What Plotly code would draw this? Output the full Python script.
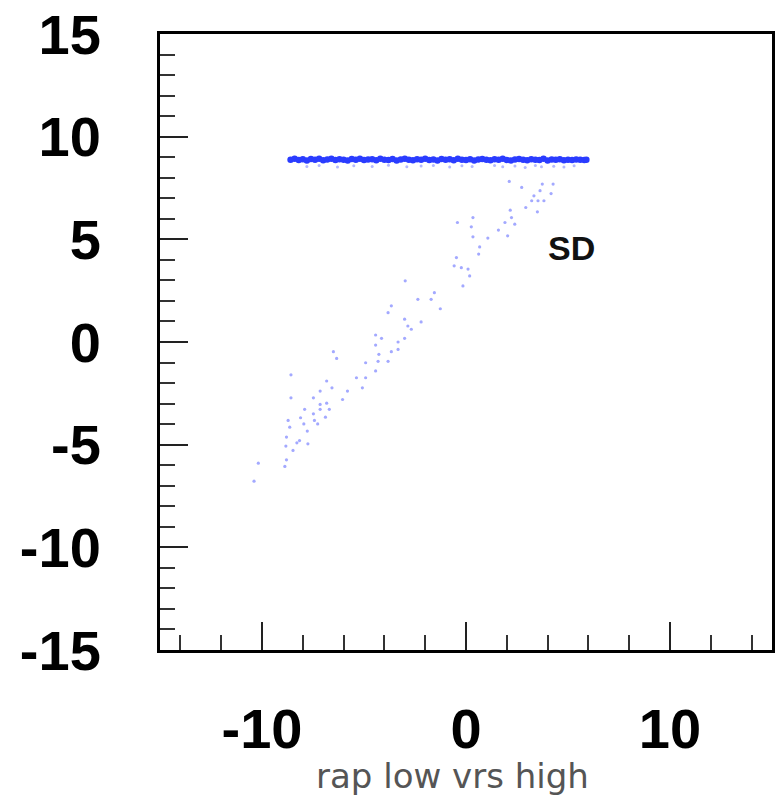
import plotly.graph_objects as go

# Dense single-diffractive band (rapidity of low vs high side)
band_x = [-8.6, -8.4, -8.2, -8.0, -7.8, -7.6, -7.4, -7.2, -7.0, -6.8,
          -6.6, -6.4, -6.2, -6.0, -5.8, -5.6, -5.4, -5.2, -5.0, -4.8,
          -4.6, -4.4, -4.2, -4.0, -3.8, -3.6, -3.4, -3.2, -3.0, -2.8,
          -2.6, -2.4, -2.2, -2.0, -1.8, -1.6, -1.4, -1.2, -1.0, -0.8,
          -0.6, -0.4, -0.2, 0.0, 0.2, 0.4, 0.6, 0.8, 1.0, 1.2,
          1.4, 1.6, 1.8, 2.0, 2.2, 2.4, 2.6, 2.8, 3.0, 3.2,
          3.4, 3.6, 3.8, 4.0, 4.2, 4.4, 4.6, 4.8, 5.0, 5.2,
          5.4, 5.6, 5.8, 5.9]
band_y = [8.88, 8.92, 8.86, 8.90, 8.84, 8.91, 8.87, 8.93, 8.85, 8.89,
          8.92, 8.86, 8.90, 8.88, 8.84, 8.91, 8.87, 8.93, 8.86, 8.89,
          8.90, 8.85, 8.92, 8.88, 8.86, 8.91, 8.84, 8.89, 8.92, 8.87,
          8.85, 8.90, 8.88, 8.93, 8.86, 8.89, 8.84, 8.91, 8.87, 8.90,
          8.85, 8.92, 8.88, 8.86, 8.90, 8.84, 8.89, 8.91, 8.87, 8.85,
          8.90, 8.88, 8.92, 8.86, 8.84, 8.89, 8.91, 8.87, 8.85, 8.90,
          8.88, 8.86, 8.92, 8.84, 8.89, 8.87, 8.90, 8.85, 8.88, 8.86,
          8.89, 8.87, 8.86, 8.88]

# Sparse events just below the band
shadow_x = [-7.8, -7.2, -6.3, -5.5, -4.6, -3.8, -2.9, -2.2, -1.6, -0.8,
            -0.2, 0.3, 1.4, 1.8, 2.4, 2.9, 3.4, 3.7, 4.3, 4.8, 5.3]
shadow_y = [8.55, 8.60, 8.52, 8.58, 8.55, 8.61, 8.53, 8.57, 8.60, 8.52,
            8.58, 8.55, 8.60, 8.53, 8.57, 8.50, 8.59, 8.54, 8.56, 8.52, 8.58]

# Sparse diagonal population
diag_x = [2.12, 2.73, 3.74, 4.27, 3.63, 4.17, 3.33, 3.22, 3.53, 3.82,
          2.93, 3.50, 2.17, 0.34, 2.23, -0.42, 1.91, 2.39, 0.26, 1.59,
          2.04, 0.34, 1.07, 0.67, 0.62, -0.47, -0.58, -0.23, 0.10, 0.18,
          -0.15, -2.98, -1.55, -2.36, -1.71, -1.26, -3.66, -3.82, -3.01, -2.20,
          -2.85, -2.68, -4.43, -4.14, -3.01, -3.33, -4.43, -6.50, -3.66, -3.33,
          -4.27, -6.34, -4.92, -4.31, -3.82, -4.43, -8.58, -6.83, -5.37, -4.92,
          -6.57, -5.08, -7.15, -5.81, -8.58, -7.48, -6.05, -6.83, -7.15, -6.70,
          -7.15, -7.91, -7.48, -6.89, -8.11, -8.72, -7.95, -7.43, -7.27, -8.64,
          -7.78, -8.80, -8.16, -7.75, -8.29, -8.83, -8.48, -8.80, -10.18, -8.88,
          -10.39]
diag_y = [7.82, 7.53, 7.69, 7.69, 7.37, 7.23, 7.12, 6.88, 6.88, 6.88,
          6.55, 6.34, 6.42, 6.06, 6.06, 5.82, 5.82, 5.74, 5.61, 5.45,
          5.17, 5.12, 5.06, 4.63, 4.28, 4.11, 3.71, 3.62, 3.55, 3.22,
          2.73, 2.98, 2.40, 2.08, 2.08, 1.62, 1.76, 1.43, 1.11, 0.98,
          0.78, 0.62, 0.34, 0.18, 0.18, 0.00, -0.15, -0.47, -0.47, -0.36,
          -0.60, -0.80, -1.01, -0.94, -0.94, -1.41, -1.60, -1.90, -1.74, -1.74,
          -2.23, -2.23, -2.39, -2.39, -2.72, -2.72, -2.80, -2.98, -3.04, -3.28,
          -3.28, -3.28, -3.50, -3.66, -3.69, -3.82, -3.99, -3.82, -3.99, -4.15,
          -4.34, -4.63, -4.80, -4.96, -4.91, -5.07, -5.28, -5.74, -5.90, -6.06,
          -6.78]

x_ticks = [-10, 0, 10]
y_ticks = [-15, -10, -5, 0, 5, 10, 15]
x_title = "rap low vrs high"
label_text = "SD"

fig = go.Figure()
fig.add_trace(go.Scatter(x=diag_x, y=diag_y, mode="markers",
                         marker=dict(size=3.2, color="#a3a9ff", line=dict(width=0)),
                         hoverinfo="skip"))
fig.add_trace(go.Scatter(x=shadow_x, y=shadow_y, mode="markers",
                         marker=dict(size=3, color="#b4b9ff", line=dict(width=0)),
                         hoverinfo="skip"))
fig.add_trace(go.Scatter(x=band_x, y=band_y, mode="markers",
                         marker=dict(size=6.5, color="#2a3cff", line=dict(width=0)),
                         hoverinfo="skip"))

fig.add_annotation(x=5.15, y=4.6, text=f"<b>{label_text}</b>", showarrow=False,
                   font=dict(family="Liberation Sans", size=34, color="#111111"),
                   xanchor="center", yanchor="middle")
fig.add_annotation(xref="paper", yref="paper", x=0.478, y=-0.205, text=x_title,
                   showarrow=False, xanchor="center", yanchor="middle",
                   font=dict(family="DejaVu Sans", size=34, color="#555555"))

axis_common = dict(showgrid=False, zeroline=False, showline=True, linecolor="black",
                   linewidth=3, mirror=True, ticks="inside", ticklen=28, tickwidth=2,
                   tickcolor="#222222",
                   tickfont=dict(family="Liberation Sans", size=56, color="black",
                                 weight="bold"))

fig.update_xaxes(range=[-15, 15], tickvals=x_ticks, ticktext=[str(v) for v in x_ticks],
                 ticklabelstandoff=28,
                 minor=dict(ticks="inside", ticklen=15, tickwidth=2, tickcolor="#333333",
                            tick0=0, dtick=2),
                 **axis_common)
fig.update_yaxes(range=[-15, 15], tickvals=y_ticks, ticktext=[str(v) for v in y_ticks],
                 ticklabelstandoff=45,
                 minor=dict(ticks="inside", ticklen=15, tickwidth=2, tickcolor="#333333",
                            tick0=0, dtick=1),
                 **axis_common)

fig.update_layout(width=778, height=801, showlegend=False,
                  margin=dict(l=160, r=3, t=34, b=151),
                  plot_bgcolor="white", paper_bgcolor="white")

fig.write_html("out.html")
